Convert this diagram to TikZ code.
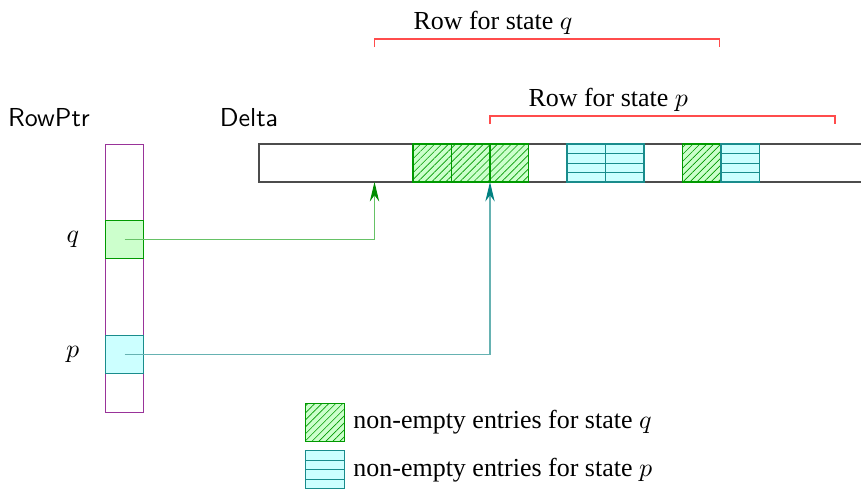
\documentclass[tikz,border=0pt]{standalone}
\usepackage{fontspec}
\setmainfont{Liberation Serif}
\usetikzlibrary{positioning,patterns.meta,arrows.meta}
\definecolor{pfill}{RGB}{204,255,255}
\definecolor{qfill}{RGB}{204,255,204}

\begin{document}
\begin{tikzpicture}[x=0.385pt,y=-0.385pt,node distance=0pt,
  cell/.style={minimum width=14.82pt,minimum height=14.63pt,inner sep=0pt,outer sep=0pt},
  qcell/.style={cell,draw=green!60!black,preaction={fill=qfill},
    pattern={Lines[angle=45,distance=1.9pt,line width=0.25pt]},pattern color=green!60!black},
  pcell/.style={cell,draw=teal!90,fill=pfill,
    path picture={\foreach \k in {1,2,3}
      \draw[teal!90] ([yshift=-\k*3.66pt]path picture bounding box.north west)
        -- ([yshift=-\k*3.66pt]path picture bounding box.north east);}},
  rowbrace/.style={red!70,line width=0.5pt},
  qptr/.style={green!60!black!60,-{Stealth[length=7.5pt,width=3.6pt,color=green!55!black]}},
  pptr/.style={teal!60,-{Stealth[length=7.5pt,width=3.6pt,color=teal]}}]
  \useasboundingbox (0,0) rectangle (861,488);

  % row pointer array
  \node[cell,draw=violet!80,line width=0.3pt,minimum height=103.2pt,anchor=north west] (rowptr) at (105,144) {};
  \node[cell,draw=green!60!black,fill=qfill] (rq) at (124.5,239.5) {};
  \node[cell,draw=teal!90,fill=pfill] (rp) at (124.5,354.5) {};
  \node[left=6.5pt of rq] (ql) {$q$};
  \node[left=6.5pt of rp] (pl) {$p$};
  \node[anchor=base] (rowptrname) at (49,126) {\sffamily RowPtr};

  % delta array
  \node[draw=black!70,cell,minimum width=239pt,anchor=north west] (delta) at (259,144) {};
  \node[anchor=base] (deltaname) at (249,126) {\sffamily Delta};
  \path
  node[qcell] (dq1) at (432.25,163) {}
  node[qcell] (dq2) [right=of dq1] {}
  node[qcell] (dq3) [right=of dq2] {}
  node[pcell] (dp1) at (586.25,163) {}
  node[pcell] (dp2) [right=of dp1] {}
  node[qcell] (dq4) at (701.75,163) {}
  node[pcell] (dp3) [right=of dq4] {}
  ;
  \coordinate (tq) at (374.5,182);
  \coordinate (tp) at (490,182);

  % rows
  \draw[rowbrace] (374.5,47) |- (719.5,39) -- (719.5,47);
  \node[anchor=base west,inner sep=0pt] (rowq) at (413,29) {Row for state $q$};
  \draw[rowbrace] (490,124) |- (835,116) -- (835,124);
  \node[anchor=base west,inner sep=0pt] (rowp) at (528,106) {Row for state $p$};

  \draw[qptr] (rq.center) -| (tq);
  \draw[pptr] (rp.center) -| (tp);

  % legend
  \node[qcell] (lq) at (325,422) {};
  \node[pcell] (lp) [below=3.8pt of lq] {};
  \node[right=of lq] (lqtext) {non-empty entries for state $q$};
  \node[right=of lp] (lptext) {non-empty entries for state $p$};
\end{tikzpicture}
\end{document}
